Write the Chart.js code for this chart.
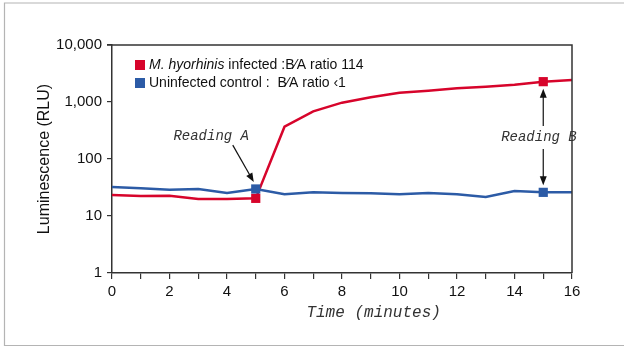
<!DOCTYPE html>
<html>
<head>
<meta charset="utf-8">
<script src="https://cdn.jsdelivr.net/npm/chart.js@4"></script>
<style>
  html, body { margin: 0; padding: 0; background: #fff; }
  #wrap { width: 624px; height: 349px; }
</style>
</head>
<body>
<div id="wrap"><canvas id="lumChart" width="624" height="349"></canvas></div>
<script>
// time points in minutes
var minutes = [0, 1, 2, 3, 4, 5, 6, 7, 8, 9, 10, 11, 12, 13, 14, 15, 16];
// luminescence (RLU)
var infected = [23.4, 22.4, 22.7, 19.9, 19.9, 20.4, 369, 687, 973, 1208, 1456, 1580, 1738, 1857, 2014, 2274, 2432];
var control = [32.3, 30.6, 28.9, 29.8, 25.3, 29.8, 24.0, 26.0, 25.3, 25.0, 24.0, 25.3, 24.0, 21.5, 27.4, 26.0, 26.0];
var yTicks = [1, 10, 100, 1000, 10000];
var readingA = 5, readingB = 15;

var RED = '#d7042b';
var BLUE = '#2c5ba6';

function points(values) {
    return minutes.map(function (m, i) { return { x: m, y: values[i] }; });
}

function markers(idx) {
    return minutes.map(function (m) { return idx.indexOf(m) >= 0 ? 6.5 : 0; });
}

function arrow(ctx, x1, y1, x2, y2) {
    var a = Math.atan2(y2 - y1, x2 - x1);
    ctx.beginPath();
    ctx.moveTo(x1, y1);
    ctx.lineTo(x2 - 6 * Math.cos(a), y2 - 6 * Math.sin(a));
    ctx.stroke();
    ctx.beginPath();
    ctx.moveTo(x2, y2);
    ctx.lineTo(x2 - 9 * Math.cos(a) + 3.5 * Math.sin(a), y2 - 9 * Math.sin(a) - 3.5 * Math.cos(a));
    ctx.lineTo(x2 - 9 * Math.cos(a) - 3.5 * Math.sin(a), y2 - 9 * Math.sin(a) + 3.5 * Math.cos(a));
    ctx.closePath();
    ctx.fill();
}

var extras = {
    id: 'extras',
    afterDraw: function (chart) {
        var ctx = chart.ctx, area = chart.chartArea;
        var xs = chart.scales.x, ys = chart.scales.y;
        ctx.save();

        // outer frame
        ctx.strokeStyle = '#b4b4b4';
        ctx.lineWidth = 1.2;
        ctx.beginPath();
        ctx.moveTo(624, 3); ctx.lineTo(4.5, 3); ctx.lineTo(4.5, 345.5); ctx.lineTo(624, 345.5);
        ctx.stroke();

        // top and right of plot box
        ctx.strokeStyle = '#333';
        ctx.lineWidth = 1.5;
        ctx.beginPath();
        ctx.moveTo(area.left - 5, area.top); ctx.lineTo(area.right, area.top); ctx.lineTo(area.right, area.bottom);
        ctx.stroke();

        // legend
        var rows = [
            { color: RED, italic: 'M. hyorhinis', text: ' infected :B\u2044A ratio 114' },
            { color: BLUE, italic: '', text: 'Uninfected control :  B\u2044A ratio \u20391' }
        ];
        ctx.textBaseline = 'middle';
        ctx.textAlign = 'left';
        rows.forEach(function (r, i) {
            var y = area.top + 20 + i * 18;
            ctx.fillStyle = r.color;
            ctx.fillRect(area.left + 23, y - 5, 10, 10);
            ctx.fillStyle = '#111';
            var x = area.left + 37;
            if (r.italic) {
                ctx.font = 'italic 14px "Liberation Sans", Arial, sans-serif';
                ctx.fillText(r.italic, x, y);
                x += ctx.measureText(r.italic).width;
            }
            ctx.font = '14px "Liberation Sans", Arial, sans-serif';
            ctx.fillText(r.text, x, y);
        });

        // reading annotations
        ctx.font = 'italic 14px "Liberation Mono", "Courier New", monospace';
        ctx.fillStyle = '#333';
        ctx.textAlign = 'center';
        ctx.fillText('Reading A', xs.getPixelForValue(3.45), ys.getPixelForValue(250));
        ctx.fillText('Reading B', xs.getPixelForValue(14.85), ys.getPixelForValue(240));

        ctx.strokeStyle = '#111';
        ctx.fillStyle = '#111';
        ctx.lineWidth = 1.2;
        var ax = xs.getPixelForValue(readingA), ay = ys.getPixelForValue(control[readingA]);
        arrow(ctx, xs.getPixelForValue(4.2), ys.getPixelForValue(175), ax - 2, ay - 7);
        var bx = xs.getPixelForValue(readingB);
        arrow(ctx, bx, ys.getPixelForValue(380), bx, ys.getPixelForValue(infected[readingB]) + 7);
        arrow(ctx, bx, ys.getPixelForValue(150), bx, ys.getPixelForValue(control[readingB]) - 7);

        // x axis title
        ctx.font = 'italic 16px "Liberation Mono", "Courier New", monospace';
        ctx.fillStyle = '#333';
        ctx.fillText('Time (minutes)', xs.getPixelForValue(9.1), area.bottom + 40);

        ctx.restore();
    }
};

var ctx = document.getElementById('lumChart').getContext('2d');
new Chart(ctx, {
    type: 'line',
    data: {
        datasets: [{
            label: 'M. hyorhinis infected',
            data: points(infected),
            borderColor: RED,
            backgroundColor: RED,
            borderWidth: 2.5,
            pointStyle: 'rect',
            pointRadius: markers([readingA, readingB]),
            pointBorderWidth: 0,
            order: 1
        }, {
            label: 'Uninfected control',
            data: points(control),
            borderColor: BLUE,
            backgroundColor: BLUE,
            borderWidth: 2.5,
            pointStyle: 'rect',
            pointRadius: markers([readingA, readingB]),
            pointBorderWidth: 0,
            order: 0
        }]
    },
    plugins: [extras],
    options: {
        responsive: false,
        animation: false,
        layout: { padding: { left: 31, top: 45, right: 52, bottom: 0 } },
        plugins: { legend: { display: false }, tooltip: { enabled: false } },
        scales: {
            x: {
                type: 'linear',
                min: 0,
                max: 16,
                afterFit: function (s) { s.height = 76; },
                grid: { drawOnChartArea: false, color: '#333', tickLength: 6, lineWidth: 1.2 },
                border: { color: '#333', width: 1.5 },
                ticks: {
                    stepSize: 1,
                    color: '#111',
                    padding: 4,
                    maxRotation: 0,
                    autoSkip: false,
                    font: { size: 15, family: '"Liberation Sans", Arial, sans-serif' },
                    callback: function (v) { return v % 2 === 0 ? String(v) : ''; }
                }
            },
            y: {
                type: 'logarithmic',
                min: 1,
                max: 10000,
                afterFit: function (s) { s.width = 81; },
                afterBuildTicks: function (s) { s.ticks = yTicks.map(function (v) { return { value: v }; }); },
                grid: { drawOnChartArea: false, color: '#333', tickLength: 5, lineWidth: 1.2 },
                border: { color: '#333', width: 1.5 },
                title: {
                    display: true,
                    text: 'Luminescence (RLU)',
                    color: '#111',
                    padding: { top: 4, bottom: 0 },
                    font: { size: 16, family: '"Liberation Sans", Arial, sans-serif' }
                },
                ticks: {
                    color: '#111',
                    padding: 5,
                    font: { size: 15, family: '"Liberation Sans", Arial, sans-serif' },
                    callback: function (v) { return Number(v).toLocaleString('en-US'); }
                }
            }
        }
    }
});
</script>
</body>
</html>
